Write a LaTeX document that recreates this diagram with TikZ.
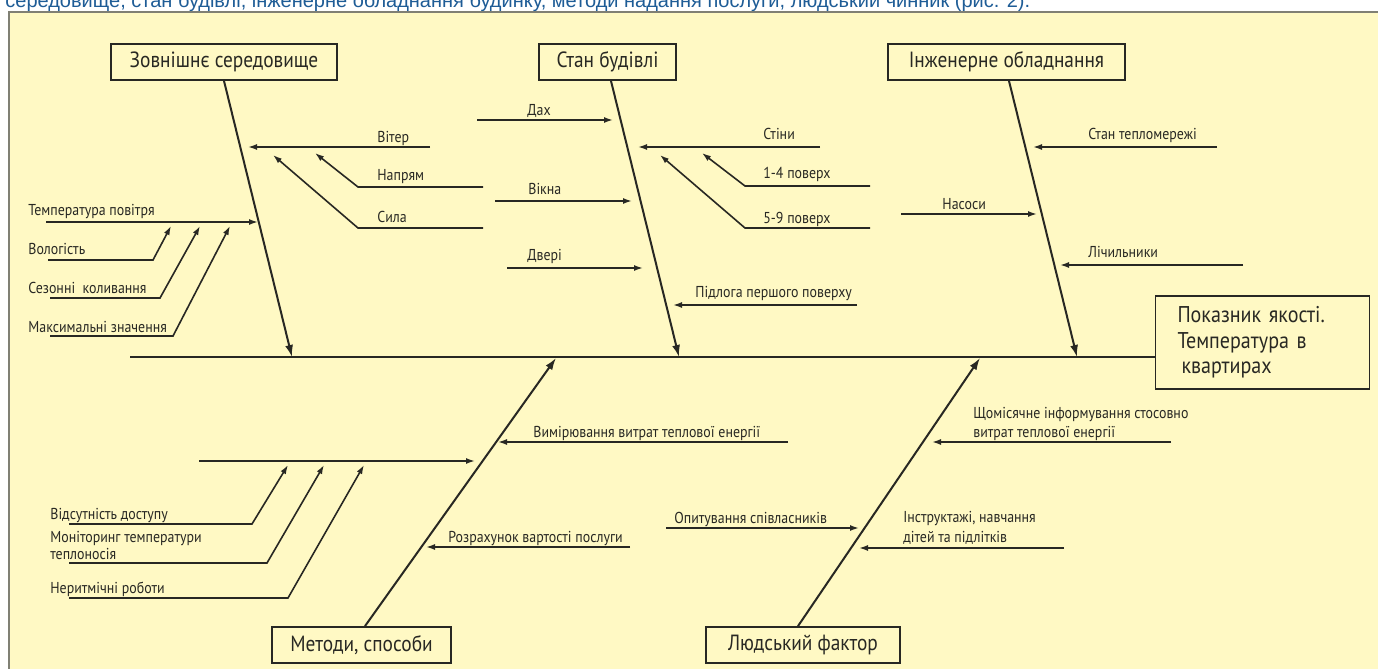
\documentclass[tikz,border=0pt]{standalone}
\usepackage{fontspec}
\setmainfont{PT Sans}[FakeStretch=0.88]
\newfontfamily\capfont{Liberation Sans}
\usetikzlibrary{arrows.meta}

\definecolor{panel}{RGB}{255,249,196}
\definecolor{frame}{RGB}{128,128,116}
\definecolor{capblue}{RGB}{30,92,150}
\definecolor{ink}{RGB}{40,40,35}

\tikzset{
 cause/.style={draw=ink,line width=0.9pt,minimum height=18pt,inner sep=0pt,font=\fontsize{11}{13}\selectfont,text=ink},
 bone/.style={ink,line width=1pt,-{Latex[length=6pt,width=4pt]}},
 twig/.style={ink,line width=0.8pt,-{Latex[length=4.5pt,width=3pt]}},
 lbl/.style={anchor=base west,inner sep=0pt,font=\fontsize{7.9}{9}\selectfont,text=ink,align=left},
}

\begin{document}
\begin{tikzpicture}[x=0.5pt,y=-0.5pt]
 \useasboundingbox (0,0) rectangle (1378,669);
 \node[anchor=base west,inner sep=0pt,font=\capfont\fontsize{10}{12}\selectfont,text=capblue] (cap) at (5,8)
  {середовище, стан будівлі, інженерне обладнання будинку, методи надання послуги, людський  чинник (рис. 2).};
 \fill[panel] (9,12) rectangle (1378,669); %жовте поле
 \draw[frame,line width=1.3pt] (9,669) -- (9,12) -- (1378,12);

 % причини
 \node[cause,minimum width=113pt] (zs) at (224,62) {Зовнішнє середовище};
 \node[cause,minimum width=68.5pt] (sb) at (607.5,62) {Стан будівлі};
 \node[cause,minimum width=118.5pt] (io) at (1006.5,62) {Інженерне обладнання};
 \node[cause,minimum width=89.5pt] (ms) at (361.5,645) {Методи, способи};
 \node[cause,minimum width=97pt] (lf) at (803,645) {Людський фактор};
 \node[draw=ink,line width=0.9pt,minimum height=46.5pt,inner xsep=11pt,text width=85pt,align=left,
  font=\fontsize{11.4}{12.8}\selectfont,text=ink] (ef) at (1262.5,342.5)
  {Показник якості.\\Температура в\\\hspace{2pt}квартирах};

 % хребет і кістки
 \coordinate (sp) at (130,357);
 \draw[ink,line width=1.2pt] (sp) -- (ef.west |- sp);
 \coordinate (b1) at (292,357); \coordinate (b2) at (679,357); \coordinate (b3) at (1077,357);
 \coordinate (b4) at (556,358); \coordinate (b5) at (980,358);
 \draw[bone] (zs.south) -- (b1);
 \draw[bone] ([xshift=1.75pt]sb.south) -- (b2);
 \draw[bone] ([xshift=1.25pt]io.south) -- (b3);
 \draw[bone] ([xshift=1.75pt]ms.north) -- (b4);
 \draw[bone] ([xshift=-2.5pt]lf.north) -- (b5);

 % Зовнішнє середовище
 \coordinate (vt0) at (430,147); \coordinate (vt1) at (248,147);
 \coordinate (np0) at (483,187); \coordinate (np1) at (358,187); \coordinate (np2) at (315,153);
 \coordinate (sl0) at (483,228); \coordinate (sl1) at (358,228); \coordinate (sl2) at (273,155);
 \coordinate (tp0) at (46,222);  \coordinate (tp1) at (258,222);
 \coordinate (vl0) at (48,260);  \coordinate (vl1) at (153,260); \coordinate (vl2) at (171,226);
 \coordinate (sk0) at (50,298);  \coordinate (sk1) at (160,298); \coordinate (sk2) at (200,226);
 \coordinate (mz0) at (50,336);  \coordinate (mz1) at (173,336); \coordinate (mz2) at (230,226);
 \draw[twig] (vt0) -- (vt1);
 \draw[twig] (np0) -- (np1) -- (np2);
 \draw[twig] (sl0) -- (sl1) -- (sl2);
 \draw[twig] (tp0) -- (tp1);
 \draw[twig] (vl0) -- (vl1) -- (vl2);
 \draw[twig] (sk0) -- (sk1) -- (sk2);
 \draw[twig] (mz0) -- (mz1) -- (mz2);
 \node[lbl] (lvt) at (377,142) {Вітер};
 \node[lbl] (lnp) at (377,180) {Напрям};
 \node[lbl] (lsl) at (377,222) {Сила};
 \node[lbl] (ltp) at (28,215) {Температура повітря};
 \node[lbl] (lvl) at (28,254) {Вологість};
 \node[lbl] (lsk) at (28,293) {Сезонні\ \ коливання};
 \node[lbl] (lmz) at (28,332) {Максимальні значення};

 % Стан будівлі
 \coordinate (dh0) at (477,120); \coordinate (dh1) at (613,120);
 \coordinate (st0) at (820,147); \coordinate (st1) at (638,147);
 \coordinate (pa0) at (870,186); \coordinate (pa1) at (745,186); \coordinate (pa2) at (702,153);
 \coordinate (pb0) at (870,228); \coordinate (pb1) at (745,228); \coordinate (pb2) at (660,155);
 \coordinate (vk0) at (495,201); \coordinate (vk1) at (632,201);
 \coordinate (dv0) at (507,268); \coordinate (dv1) at (643,268);
 \coordinate (pd0) at (857,305); \coordinate (pd1) at (673,305);
 \draw[twig] (dh0) -- (dh1);
 \draw[twig] (st0) -- (st1);
 \draw[twig] (pa0) -- (pa1) -- (pa2);
 \draw[twig] (pb0) -- (pb1) -- (pb2);
 \draw[twig] (vk0) -- (vk1);
 \draw[twig] (dv0) -- (dv1);
 \draw[twig] (pd0) -- (pd1);
 \node[lbl] (ldh) at (527,115) {Дах};
 \node[lbl] (lst) at (763,139) {Стіни};
 \node[lbl] (lpa) at (763,178) {1-4 поверх};
 \node[lbl] (lpb) at (763,223) {5-9 поверх};
 \node[lbl] (lvk) at (528,194) {Вікна};
 \node[lbl] (ldv) at (527,260) {Двері};
 \node[lbl] (lpd) at (695,297) {Підлога першого поверху};

 % Інженерне обладнання
 \coordinate (tm0) at (1217,147); \coordinate (tm1) at (1033,147);
 \coordinate (ns0) at (901,214);  \coordinate (ns1) at (1037,214);
 \coordinate (lc0) at (1243,265); \coordinate (lc1) at (1060,265);
 \draw[twig] (tm0) -- (tm1);
 \draw[twig] (ns0) -- (ns1);
 \draw[twig] (lc0) -- (lc1);
 \node[lbl] (ltm) at (1088,139) {Стан тепломережі};
 \node[lbl] (lns) at (942,209) {Насоси};
 \node[lbl] (llc) at (1088,257) {Лічильники};

 % Методи, способи
 \coordinate (vm0) at (788,442); \coordinate (vm1) at (498,442);
 \coordinate (hz0) at (199,461); \coordinate (hz1) at (475,461);
 \coordinate (vd0) at (69,524);  \coordinate (vd1) at (252,524); \coordinate (vd2) at (288,465);
 \coordinate (mt0) at (69,563);  \coordinate (mt1) at (267,563); \coordinate (mt2) at (324,465);
 \coordinate (nr0) at (69,598);  \coordinate (nr1) at (288,598); \coordinate (nr2) at (364,465);
 \coordinate (rz0) at (630,547); \coordinate (rz1) at (426,547);
 \draw[twig] (vm0) -- (vm1);
 \draw[twig] (hz0) -- (hz1);
 \draw[twig] (vd0) -- (vd1) -- (vd2);
 \draw[twig] (mt0) -- (mt1) -- (mt2);
 \draw[twig] (nr0) -- (nr1) -- (nr2);
 \draw[twig] (rz0) -- (rz1);
 \node[lbl] (lvm) at (533,437) {Вимірювання витрат теплової енергії};
 \node[lbl] (lvd) at (50,519) {Відсутність доступу};
 \node[lbl] (lmt) at (50,542) {Моніторинг температури};
 \node[lbl] (lmt2) at (50,559) {теплоносія};
 \node[lbl] (lnr) at (50,593) {Неритмічні роботи};
 \node[lbl] (lrz) at (448,542) {Розрахунок вартості послуги};

 % Людський фактор
 \coordinate (sh0) at (1171,442); \coordinate (sh1) at (932,442);
 \coordinate (op0) at (666,528);  \coordinate (op1) at (859,528);
 \coordinate (in0) at (1064,548); \coordinate (in1) at (859,548);
 \draw[twig] (sh0) -- (sh1);
 \draw[twig] (op0) -- (op1);
 \draw[twig] (in0) -- (in1);
 \node[lbl] (lsh) at (973,418) {Щомісячне інформування стосовно};
 \node[lbl] (lsh2) at (973,437) {витрат теплової енергії};
 \node[lbl] (lop) at (674,523) {Опитування співласників};
 \node[lbl] (lin) at (903,522) {Інструктажі, навчання};
 \node[lbl] (lin2) at (903,542) {дітей та підлітків};
\end{tikzpicture}
\end{document}
